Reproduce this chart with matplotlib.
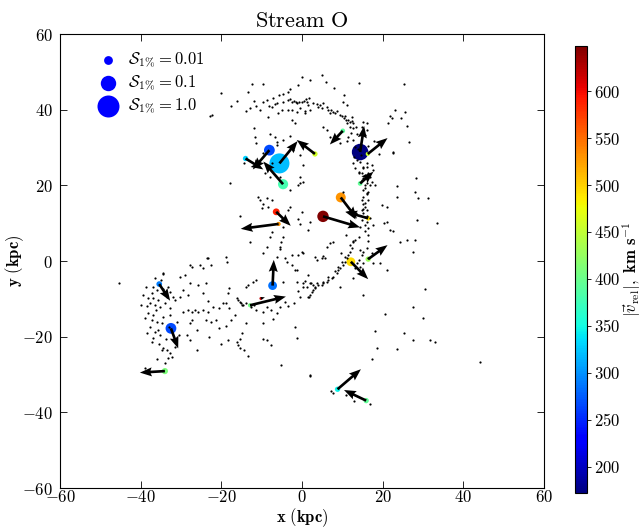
import numpy as np
import matplotlib
matplotlib.use('Agg')
import matplotlib.pyplot as plt

plt.rcParams['mathtext.fontset'] = 'cm'
plt.rcParams['font.family'] = 'DejaVu Serif'

# =============================
# DATA
# =============================
# colored markers: position (kpc), velocity arrow (kpc), |v_rel| (km/s), S_1%
marker_x = [14.4, 16.3, 10.1, -5.6, -8.1, -14.0, 3.2, -4.7, -6.4, -5.8, 5.2, 9.6,
            16.4, 14.4, 12.1, 16.4, -7.3, -10.2, -12.9, -35.4, -32.5, -34.0, 8.8, 15.9]
marker_y = [28.8, 28.3, 34.4, 25.8, 29.3, 27.1, 28.3, 20.3, 13.0, 9.8, 11.8, 16.8,
            11.3, 20.5, -0.2, 0.5, -6.5, -9.9, -11.7, -6.1, -17.8, -29.1, -33.9, -36.9]
vel_dx = [1.0, 4.9, -3.2, 4.5, -4.1, 4.4, -4.5, -4.9, 3.6, -9.4, 9.2, 4.0,
          -5.7, 3.3, 4.3, 4.8, 0.3, 1.0, 8.9, 2.7, 1.8, -6.2, 5.8, -5.5]
vel_dy = [6.9, 4.2, -3.6, 5.9, -5.1, -2.9, 3.7, 6.0, -3.7, -1.3, -2.9, -5.6,
          1.7, 3.1, -4.6, 3.7, 6.8, 0.3, 2.3, -4.4, -5.3, -0.4, 5.3, 2.8]
v_rel = [172, 455, 390, 320, 265, 330, 460, 380, 590, 530, 648, 530,
         490, 395, 495, 430, 285, 620, 405, 290, 265, 410, 345, 395]
s_1pct = [0.15, 0.002, 0.0024, 0.5, 0.02, 0.003, 0.003, 0.016, 0.005, 0.002, 0.025, 0.015,
          0.0024, 0.0024, 0.01, 0.003, 0.01, 0.0013, 0.002, 0.0034, 0.02, 0.004, 0.003, 0.003]

legend_s = [0.01, 0.1, 1.0]
legend_labels = [r'$\mathcal{S}_{1\%} = 0.01$', r'$\mathcal{S}_{1\%} = 0.1$', r'$\mathcal{S}_{1\%} = 1.0$']

# stream particles (kpc)
arc_pts = [
    (-16.2, 42.4), (-12.5, 46.7), (-9.6, 46.8), (0.1, 48.7), (4.9, 49.1), (2.0, 47.9), (5.9, 47.2),
    (14.1, 47.0), (-3.1, 45.4), (-4.8, 44.1), (-5.7, 43.9), (-3.5, 44.8),
    (-9.6, 41.9), (-8.1, 41.1), (-6.7, 41.4), (-6.3, 41.7), (-7.5, 40.8), (-4.6, 41.9), (-3.4, 42.6),
    (-3.0, 42.7), (-2.6, 42.1), (-2.0, 42.4), (-1.5, 41.9), (-1.2, 41.7), (-0.7, 42.1), (-0.1, 41.9),
    (0.5, 42.4), (1.0, 42.8), (1.3, 42.1), (1.8, 43.0), (1.6, 41.2), (2.0, 39.9), (0.8, 39.7),
    (-0.5, 40.4), (-1.3, 39.5), (-2.6, 39.9), (-3.4, 39.9), (-5.0, 39.9), (-5.9, 39.2), (-8.4, 38.0),
    (0.8, 39.0), (2.8, 41.7), (3.6, 41.5), (4.0, 40.8), (4.4, 41.2), (4.9, 40.4), (5.3, 41.7),
    (6.1, 40.6), (6.5, 39.9), (7.3, 39.9), (7.8, 39.5), (8.2, 39.0), (8.6, 39.7), (6.9, 39.0),
    (10.2, 41.9), (11.1, 41.2), (9.4, 38.6), (9.8, 38.2), (10.4, 37.7), (10.7, 38.3), (11.5, 37.3),
    (11.9, 36.8), (12.3, 37.1), (12.7, 36.6), (11.2, 36.4), (11.9, 35.5), (12.6, 35.1), (15.2, 36.8),
    (14.8, 35.5), (16.0, 34.6), (15.6, 33.3), (13.6, 33.7), (12.1, 33.9),
    (-11.5, 41.0), (-13.0, 40.5), (-10.5, 40.0), (-14.0, 39.6), (-8.8, 42.6), (-7.2, 43.0), (-12.0, 42.3),
    (-2.6, 37.3), (-1.8, 36.4), (-3.0, 33.0), (-12.0, 35.2), (-6.3, 30.7), (5.3, 35.5), (6.1, 34.5),
    (6.9, 32.7), (-8.0, 33.5), (-4.8, 32.0), (-13.5, 44.8), (-20.0, 44.5), (-17.5, 41.0), (8.0, 45.8),
    (10.5, 44.0), (-1.0, 46.5),
]
right_pts = [
    (21.4, 36.4), (25.5, 39.3), (21.8, 38.4), (25.9, 35.7), (22.6, 28.7), (23.0, 39.9), (25.3, 46.8),
    (12.9, 27.6), (13.6, 26.7), (16.0, 24.9), (15.2, 24.5), (17.8, 31.6), (16.4, 30.4), (19.0, 28.3),
    (11.5, 32.7), (12.7, 32.0), (11.1, 31.6), (9.4, 31.3), (13.8, 29.5), (14.6, 28.0), (13.2, 30.2),
    (11.0, 37.3), (12.3, 38.1), (13.5, 35.5), (15.2, 33.8), (16.0, 36.4), (22.2, 37.7), (22.6, 28.5),
    (12.7, 25.8), (14.4, 26.3), (15.2, 24.9), (16.0, 25.8), (17.3, 25.4), (14.0, 23.6), (14.8, 23.2),
    (15.6, 22.7), (16.4, 23.2), (16.9, 22.3), (17.7, 24.0), (15.2, 21.9), (14.8, 21.4), (16.0, 20.5),
    (16.9, 20.1), (17.3, 21.0), (15.6, 19.2), (16.4, 18.3), (16.0, 17.9), (15.2, 17.0), (18.1, 20.1),
    (16.4, 16.1), (15.2, 15.2), (15.6, 14.4), (14.8, 13.5), (16.0, 13.5), (15.2, 12.6), (15.6, 11.7),
    (14.8, 10.8), (16.9, 11.3), (16.0, 10.4), (15.6, 9.5), (16.4, 8.6), (15.6, 7.8), (16.4, 6.9),
    (14.4, 9.1), (17.7, 9.5), (14.0, 6.4), (13.1, 5.6), (12.7, 5.1), (11.9, 4.2), (12.3, 3.4),
    (11.9, 2.5), (11.5, 1.6), (11.1, 0.7), (10.7, -0.2), (10.2, -1.1), (9.4, -1.9), (9.0, -2.4),
    (8.6, -3.3), (7.8, -4.1), (7.4, -4.6), (6.5, -5.0), (6.1, -5.5), (5.3, -5.9), (4.9, -6.3),
    (4.0, -6.3), (3.2, -6.8), (2.8, -7.7), (2.4, -8.1), (2.0, -9.0), (1.8, -9.4),
    (13.1, 24.6), (14.0, 23.3), (16.0, 22.3), (15.6, 20.1), (15.2, 18.8), (16.0, 17.6), (14.8, 16.2),
    (15.6, 15.4), (15.2, 13.7), (16.0, 11.9), (13.5, 12.8),
    (14.4, 2.9), (15.2, 2.5), (14.8, 1.6), (16.0, 3.4), (16.4, 0.7), (17.3, 2.0), (14.0, 0.3),
    (13.6, -0.6), (14.4, -1.5), (13.1, -1.9), (15.2, -0.6),
]
center_pts = [
    (10.7, 1.1), (9.9, -0.2), (9.0, -1.5), (8.2, -2.6), (6.5, -4.1), (5.3, -5.5), (3.6, -5.9),
    (3.2, -7.2), (1.6, -9.4), (6.9, 4.7), (7.8, 5.1), (6.1, 3.8), (3.2, 1.1), (3.6, 0.3), (4.9, 0.7),
    (5.7, 0.7), (2.0, -5.9), (1.2, -6.8), (2.8, -6.3), (1.6, -3.7), (0.3, -6.8), (9.4, -6.8),
    (12.7, -4.6), (15.2, -9.0), (-1.7, -2.4), (0.3, -5.9), (-1.3, -5.5), (-4.6, -5.5), (-6.3, 1.1),
    (-4.2, 0.7), (-2.6, 1.6), (-0.9, 1.6), (0.3, 2.0), (5.3, 1.3), (9.7, 2.0), (-3.8, -0.2),
    (-2.6, -1.1), (-1.3, -2.4), (0.7, -5.4), (2.3, -5.9), (-1.7, -17.4), (-1.3, -20.4), (-5.1, -27.5),
    (1.9, -30.2), (-0.5, -9.5), (-2.0, -11.0), (-3.5, -12.0), (-0.9, -8.0),
    (-22.8, 38.3), (-6.7, 32.9), (-6.3, 31.5), (-2.2, 29.3), (-0.5, 28.0), (0.3, 25.4), (-0.5, 22.3),
    (-3.0, 18.8), (-0.9, 20.1), (-11.7, 32.9), (-11.3, 31.1), (-9.6, 28.5), (-7.5, 25.8), (-5.5, 22.3),
    (-9.2, 23.2), (-8.0, 22.3), (-10.8, 17.0), (-10.4, 16.1), (-8.8, 16.6), (-7.5, 16.1), (-9.6, 15.2),
    (-8.4, 14.3), (-10.0, 13.9), (-3.0, 14.3), (-3.4, 13.4), (-0.9, 11.2), (-0.5, 9.9), (2.0, 10.4),
    (-5.0, 11.2), (-4.6, 9.0), (-7.5, 7.7), (-8.0, 6.4), (-8.8, 3.8), (-5.5, 3.8), (-14.5, 25.8),
    (-22.4, 38.6), (0.2, 21.0), (-0.5, 20.5), (1.6, 8.2), (-0.1, 13.0), (-17.9, 20.6), (-9.6, 2.0),
    (-5.5, 3.3), (-4.7, 6.4), (-5.1, 4.9), (-0.1, 2.3), (-13.0, 5.0), (-15.5, 12.0),
]
outer_pts = [
    (17.7, -0.6), (19.3, -0.6), (21.0, -2.4), (23.5, 19.7), (21.0, 14.4), (20.2, 10.0), (22.6, 7.8),
    (24.3, 5.1), (26.0, 5.6), (28.0, 5.6), (27.6, 2.5), (28.4, 10.8), (28.0, 18.3), (28.8, 16.6),
    (27.6, -12.1), (19.8, 14.9), (23.5, 17.0), (10.2, 18.2), (21.0, 10.4), (11.0, 7.0), (12.7, 5.4),
    (16.4, 5.4), (21.8, 8.1), (28.3, 22.0), (31.2, 16.7), (33.5, 10.0), (30.5, -7.4), (30.0, -15.0),
    (33.0, -21.4), (44.1, -26.7), (24.5, 37.8), (26.5, 31.5), (20.5, -14.0), (18.0, -18.5),
    (25.4, -19.0), (27.6, -21.0), (31.7, -21.0), (18.5, -23.0), (23.5, -23.3), (17.4, -25.9),
    (2.0, -30.3), (7.8, -34.9), (7.2, -34.3), (10.8, -35.4), (13.0, -36.9), (16.9, -37.8),
    (-45.5, -5.9),
]
left_pts = [
    (-34.4, -3.4), (-36.9, -6.8), (-36.0, -7.7), (-37.3, -8.5), (-38.1, -9.9), (-36.9, -9.9),
    (-35.6, -10.3), (-37.7, -11.2), (-36.5, -11.6), (-35.2, -12.1), (-34.0, -11.2), (-33.2, -6.8),
    (-32.7, -8.1), (-31.9, -9.4), (-31.5, -10.3), (-32.7, -12.5), (-38.1, -13.8), (-36.9, -14.3),
    (-37.3, -15.6), (-36.0, -16.0), (-34.8, -16.5), (-35.6, -18.2), (-36.5, -18.7), (-36.9, -20.4),
    (-37.3, -21.3), (-35.2, -19.6), (-34.4, -14.7), (-32.7, -14.3), (-34.4, -23.1), (-34.8, -23.5),
    (-33.6, -23.5), (-32.7, -24.4), (-32.3, -25.3), (-33.2, -25.7), (-31.5, -22.6),
    (-38.8, -7.0), (-39.5, -9.0), (-38.5, -12.0), (-39.0, -15.0), (-37.8, -17.5), (-38.5, -19.0),
    (-36.2, -13.0), (-33.5, -9.5), (-34.5, -7.5), (-35.0, -5.0), (-36.5, -4.5), (-33.0, -17.5),
    (-33.8, -20.5), (-35.5, -22.0), (-38.9, -28.4), (-36.0, -26.0), (-34.0, -27.0), (-40.0, -11.5),
    (-31.0, -16.0), (-30.5, -19.5),
    (-30.3, -4.1), (-29.0, -3.7), (-27.8, -1.1), (-27.4, -1.5), (-25.3, -1.1), (-24.5, -1.9),
    (-23.5, 0.7), (-22.6, -1.1), (-18.8, 1.1), (-18.7, -0.2), (-27.8, -5.9), (-29.4, -7.7),
    (-30.3, -9.4), (-28.2, -9.0), (-25.7, -6.4), (-23.7, -5.9), (-24.5, -8.5), (-23.2, -10.7),
    (-22.1, -12.1), (-20.5, -12.5), (-19.6, -11.2), (-18.4, -8.5), (-18.0, -7.2), (-18.8, -11.2),
    (-18.0, -12.5), (-16.7, -14.3), (-29.4, -13.4), (-28.2, -12.9), (-27.4, -13.4), (-26.5, -12.9),
    (-25.7, -13.4), (-24.5, -12.9), (-23.2, -13.4), (-27.4, -15.6), (-27.8, -16.5), (-26.1, -18.2),
    (-23.7, -15.6), (-22.5, -16.0), (-21.3, -15.6), (-20.5, -17.8), (-18.8, -17.3), (-17.6, -15.6),
    (-28.6, -19.6), (-27.8, -20.9), (-26.1, -23.5), (-18.4, -20.9), (-15.4, -20.5), (-15.9, -22.2),
    (-14.3, -23.5), (-14.8, -19.1), (-14.0, -16.5), (-15.9, -10.3), (-15.1, -11.2), (-14.6, -11.6),
    (-13.8, -6.8), (-13.4, -6.4), (-12.2, -5.5), (-11.4, -5.0), (-12.6, -11.6), (-23.2, 0.7),
    (-34.5, -3.3),
    (-16.2, -9.9), (-15.4, -10.8), (-14.8, -11.5), (-13.8, -11.0), (-12.6, -12.1), (-11.8, -11.5),
    (-11.3, -12.9), (-9.6, -13.4), (-8.8, -12.1), (-7.6, -12.9), (-6.3, -13.8), (-5.5, -12.1),
    (-4.2, -10.8), (-7.2, -15.2), (-9.6, -16.5), (-8.8, -20.9), (-7.6, -22.2), (-9.6, -20.5),
    (-16.0, -21.5), (-15.5, -23.0), (-13.5, -25.0), (-23.0, -20.0), (-20.0, -22.0),
]

xticks = [-60, -40, -20, 0, 20, 40, 60]
yticks = [-60, -40, -20, 0, 20, 40, 60]
cbar_ticks = [200, 250, 300, 350, 400, 450, 500, 550, 600]


def size_from_s(s):
    # marker diameter grows with log10(S); returned in points^2
    diam_px = np.maximum(22 + 6.6 * np.log10(np.asarray(s)), 2.5)
    return (diam_px * 0.72) ** 2


# =============================
# PLOT
# =============================
fig = plt.figure(figsize=(6.44, 5.29), dpi=100)
ax = fig.add_axes([0.0932, 0.0775, 0.7516, 0.8582])

sc = ax.scatter(marker_x, marker_y, s=size_from_s(s_1pct), c=v_rel, cmap='jet',
                vmin=min(v_rel), vmax=max(v_rel), lw=0, zorder=2)

ax.quiver(marker_x, marker_y, vel_dx, vel_dy, angles='xy', scale_units='xy', scale=1,
          color='k', width=0.0055, headwidth=3.4, headlength=4.5, headaxislength=4,
          pivot='tail', zorder=3)

stream = np.array(arc_pts + right_pts + center_pts + outer_pts + left_pts)
ax.scatter(stream[:, 0], stream[:, 1], s=2.5, c='k', lw=0, zorder=4)

for s, lab in zip(legend_s, legend_labels):
    ax.scatter([], [], s=size_from_s(s), c='blue', lw=0, label=lab)
ax.legend(loc='upper left', bbox_to_anchor=(0.03, 1.0), frameon=False, scatterpoints=1,
          fontsize=12, labelspacing=0.2, handletextpad=0.2, borderaxespad=0.6)

ax.set_xlim(-60, 60)
ax.set_ylim(-60, 60)
ax.set_xticks(xticks)
ax.set_yticks(yticks)
ax.set_xticklabels(['$%d$' % v for v in xticks], fontsize=12)
ax.set_yticklabels(['$%d$' % v for v in yticks], fontsize=12)
ax.tick_params(direction='in', top=True, right=True, length=5, width=0.6)
ax.tick_params(axis='x', pad=1)
ax.tick_params(axis='y', pad=5)
ax.set_xlabel(r'$\mathbf{x\ (kpc)}$', fontsize=12, labelpad=0)
ax.set_ylabel(r'$\mathbf{y\ (kpc)}$', fontsize=12, labelpad=-3)
ax.set_title(r'$\mathrm{Stream\ O}$', fontsize=16, pad=5)

cax = fig.add_axes([0.893, 0.068, 0.0186, 0.845])
cb = fig.colorbar(sc, cax=cax, ticks=cbar_ticks)
cb.ax.set_yticklabels(['$%d$' % v for v in cbar_ticks], fontsize=12)
cb.ax.tick_params(length=3, width=0.6, pad=2)
cb.set_label(r'$|\vec{v}_{\rm rel}|,\ \mathbf{km\ s^{-1}}$', fontsize=12, labelpad=0)

fig.savefig('out.png', dpi=100)
